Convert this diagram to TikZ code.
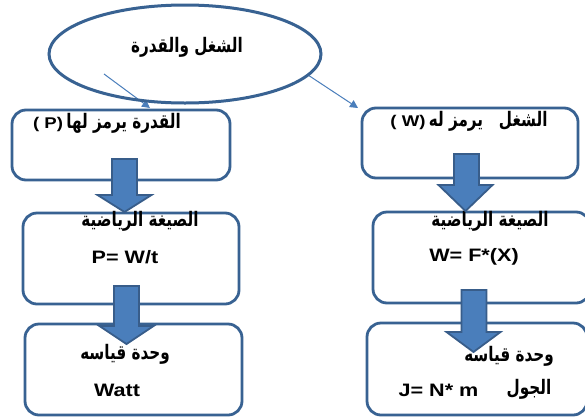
\documentclass[tikz,border=0pt]{standalone}
\usepackage{fontspec}
\setmainfont{Liberation Sans}[FakeStretch=1.2]
\newfontfamily\arabicfont[Script=Arabic,FakeStretch=0.76]{DejaVu Sans}
\TeXXeTstate=1
\usetikzlibrary{shapes.geometric,arrows.meta}
\definecolor{boxcol}{RGB}{56,98,146}
\definecolor{arrfill}{RGB}{74,126,187}
\definecolor{arrline}{RGB}{56,93,138}
\newcommand\artxt[2][20]{{\arabicfont\bfseries\fontsize{#1}{#1}\selectfont\beginR #2\endR}}
\newcommand\latxt[2][18]{{\bfseries\fontsize{#1}{#1}\selectfont #2}}
\newcommand\blockarrow[6]{% shaft x, top y, head base y, tip y, head x, name
  \draw[barrow] ({#1-12.5},#2) coordinate (#6) -- ({#1+12.5},#2) -- ({#1+12.5},#3) -- ({#5+27},#3)
    -- (#5,#4) -- ({#5-27},#3) -- ({#1-12.5},#3) -- cycle;}
\begin{document}
\begin{tikzpicture}[x=1pt,y=-1pt,
  box/.style={draw=boxcol,line width=2.8pt,rounded corners=14pt,fill=white,inner sep=0pt,outer sep=0pt},
  barrow/.style={draw=arrline,line width=1.8pt,fill=arrfill,line join=miter},
  thinarrow/.style={draw=arrfill,line width=1pt,-{Triangle[length=8pt,width=8pt]}},
  txt/.style={inner sep=0pt,outer sep=0pt,text=black}]
\clip (0,0) rectangle (585,418);
\fill[white] (0,0) rectangle (585,418);
% connectors from ellipse
\coordinate (s1) at (104,74);
\coordinate (e1) at (150,108);
\coordinate (s2) at (308,75);
\coordinate (e2) at (358,108);
\draw[thinarrow] (s1) -- (e1);
\draw[thinarrow] (s2) -- (e2);
% ellipse
\node[ellipse,draw=boxcol,line width=3pt,minimum width=272pt,minimum height=98pt,inner sep=0pt] (el) at (185,54) {};
\node[txt] (elt) at (187,47) {\artxt{الشغل والقدرة}};
% boxes
\node[box,minimum width=218pt,minimum height=70pt] (lt) at (121,145) {};
\node[box,minimum width=216pt,minimum height=91pt] (lm) at (131,258.5) {};
\node[box,minimum width=217pt,minimum height=91pt] (lb) at (133.5,369.5) {};
\node[box,minimum width=216pt,minimum height=70pt] (rt) at (470,143) {};
\node[box,minimum width=217pt,minimum height=91pt] (rm) at (481.5,257.5) {};
\node[box,minimum width=220pt,minimum height=92pt] (rb) at (477,369) {};
% texts
\node[txt] (ltt) at (107,123) {\latxt[15.5]{( P)} \artxt{القدرة يرمز لها}};
\node[txt] (rtt) at (469,121) {\latxt[15.5]{( W)} \artxt{الشغل\ \ \ يرمز له}};
\node[txt] (lmt) at (140,221) {\artxt{الصيغة الرياضية}};
\node[txt] (rmt) at (490,221) {\artxt{الصيغة الرياضية}};
\node[txt] (lmf) at (125,257) {\latxt{P= W/t}};
\node[txt] (rmf) at (474,257) {\latxt{W= F*(X)}};
\node[txt] (lbt) at (125,354) {\artxt{وحدة قياسه}};
\node[txt] (rbt) at (509,356) {\artxt{وحدة قياسه}};
\node[txt] (lbu) at (117,390) {\latxt{Watt}};
\node[txt] (rbu) at (438.5,390) {\latxt{J= N* m}};
\node[txt] (rbj) at (529,389) {\artxt{الجول}};
% block arrows
\blockarrow{124.5}{159}{195}{212}{124.5}{ba1}
\blockarrow{126.5}{286}{326}{344}{126.5}{ba2}
\blockarrow{466.5}{154}{185}{211}{465.5}{ba3}
\blockarrow{474}{290}{332}{352}{473.5}{ba4}
\end{tikzpicture}
\end{document}
